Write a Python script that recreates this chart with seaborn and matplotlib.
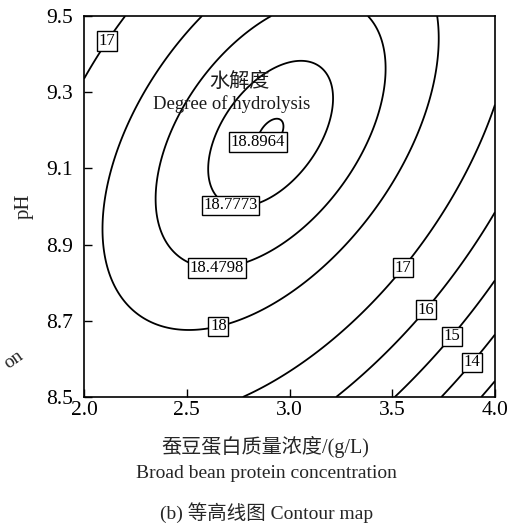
import numpy as np
import matplotlib
matplotlib.use("Agg")
import matplotlib.pyplot as plt
import seaborn as sns

coef = [18.67673, -0.84358, 0.97441, 1.35947, -1.76301, -1.11150]  # b0, b1, b2, b12, b11, b22
x_range = [2.0, 4.0]
y_range = [8.5, 9.5]
levels = [13, 14, 15, 16, 17, 18, 18.4798, 18.7773, 18.8964]
label_pos = [(2.097, 9.44), (2.842, 9.169), (2.720, 9.017), (2.647, 8.852),
             (2.647, 8.702), (3.538, 8.846), (3.650, 8.736), (3.771, 8.668), (3.869, 8.600)]
xticks = [2.0, 2.5, 3.0, 3.5, 4.0]
yticks = [8.5, 8.7, 8.9, 9.1, 9.3, 9.5]

sns.set_style("ticks", {"xtick.direction": "in", "ytick.direction": "in"})
SERIF = ["Liberation Serif", "Noto Sans CJK SC"]
plt.rcParams["font.family"] = SERIF

xg = np.linspace(x_range[0], x_range[1], 400)
yg = np.linspace(y_range[0], y_range[1], 400)
X, Y = np.meshgrid(xg, yg)
U = X - 3.0
V = (Y - 9.0) / 0.5
Z = coef[0] + coef[1]*U + coef[2]*V + coef[3]*U*V + coef[4]*U*U + coef[5]*V*V

fig = plt.figure(figsize=(5.18, 5.32), dpi=100)
ax = fig.add_axes([84/518, 1-397/532, 411/518, 381/532])
cs = ax.contour(X, Y, Z, levels=levels, colors="black", linewidths=1.3)

def fmt(val):
    return f"{val:g}"

texts = ax.clabel(cs, manual=label_pos, inline=False, fmt=fmt, fontsize=12)
for t in texts:
    t.set_rotation(0)
    t.set_family(SERIF)
    t.set_bbox(dict(boxstyle="square,pad=0.1", fc="white", ec="black", lw=1.0))
    t.set_zorder(5)

ax.set_xlim(*x_range)
ax.set_ylim(*y_range)
ax.set_xticks(xticks)
ax.set_yticks(yticks)
ax.set_xticklabels([f"{t:.1f}" for t in xticks])
ax.set_yticklabels([f"{t:.1f}" for t in yticks])
ax.tick_params(axis="both", direction="in", length=6, width=1.0, labelsize=15.5,
               top=False, right=False, colors="black")
ax.tick_params(axis="x", pad=3)
ax.tick_params(axis="y", pad=8)
for s in ax.spines.values():
    s.set_linewidth(1.2)
    s.set_color("black")

ax.text(2.755, 9.327, "水解度", ha="center", va="center", fontsize=14.5,
        family=SERIF, color="#1a1a1a")
ax.text(2.72, 9.269, "Degree of hydrolysis", ha="center", va="center",
        fontsize=13.5, family=SERIF, color="#1a1a1a")

fig.text(24/518, 1-206/532, "pH", rotation=90, ha="center", va="center",
         fontsize=15, family=SERIF)
fig.text(265/518, 1-447/532, "蚕豆蛋白质量浓度/(g/L)", ha="center", va="center",
         fontsize=14.5, family=SERIF)
fig.text(266/518, 1-473/532, "Broad bean protein concentration", ha="center",
         va="center", fontsize=14, family=SERIF)
fig.text(267/518, 1-513/532, "(b) 等高线图 Contour map", ha="center", va="center",
         fontsize=14, family=SERIF)
fig.text(1/518, 1-360/532, "on", rotation=35, ha="left", va="center",
         fontsize=14, family=SERIF)

fig.savefig("out.png", dpi=100)
